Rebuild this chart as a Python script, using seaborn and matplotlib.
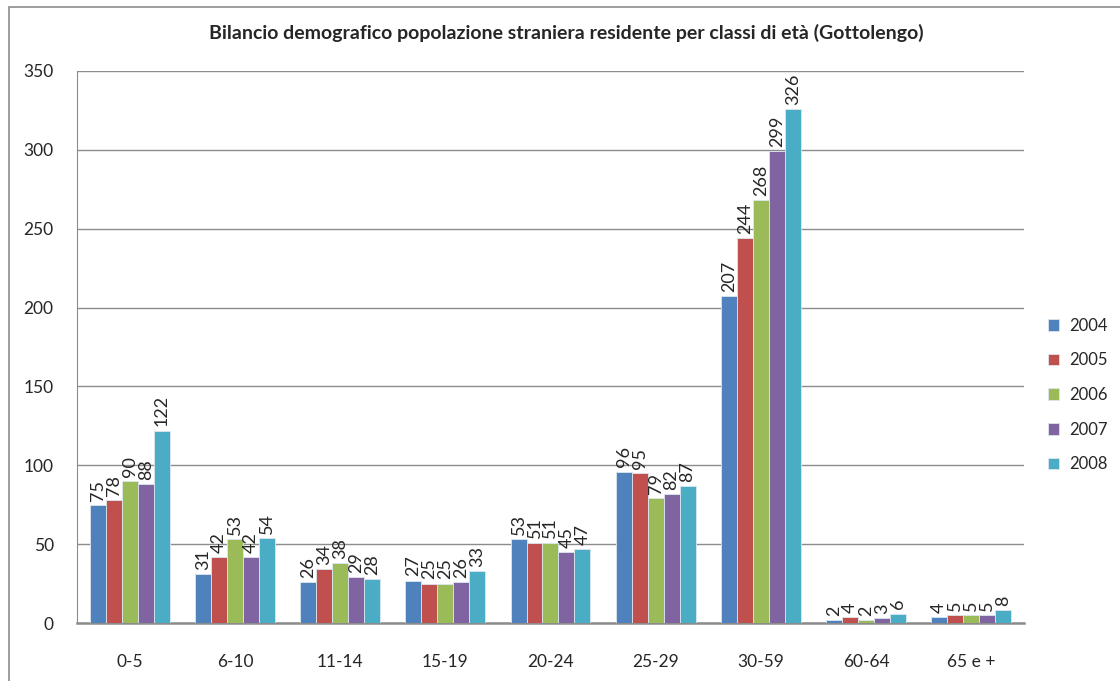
import pandas as pd
import seaborn as sns
import matplotlib.pyplot as plt
from matplotlib.patches import Rectangle

classi = ["0-5", "6-10", "11-14", "15-19", "20-24", "25-29", "30-59", "60-64", "65 e +"]
anni = ["2004", "2005", "2006", "2007", "2008"]
v2004 = [75, 31, 26, 27, 53, 96, 207, 2, 4]
v2005 = [78, 42, 34, 25, 51, 95, 244, 4, 5]
v2006 = [90, 53, 38, 25, 51, 79, 268, 2, 5]
v2007 = [88, 42, 29, 26, 45, 82, 299, 3, 5]
v2008 = [122, 54, 28, 33, 47, 87, 326, 6, 8]
colori = ["#4F81BD", "#C0504D", "#9BBB59", "#8064A2", "#4BACC6"]


def main():
    sns.set_style("white")
    plt.rcParams['font.family'] = ['Lato', 'DejaVu Sans']

    rows = []
    for anno, vals in zip(anni, [v2004, v2005, v2006, v2007, v2008]):
        for c, v in zip(classi, vals):
            rows.append({'classe': c, 'anno': anno, 'valore': v})
    df = pd.DataFrame(rows)

    fig = plt.figure(figsize=(11.2, 6.81), dpi=100)
    ax = fig.add_axes([0.069, 0.085, 0.845, 0.811])

    sns.barplot(data=df, x='classe', y='valore', hue='anno', palette=colori,
                width=0.76, order=classi, hue_order=anni, saturation=1,
                edgecolor="#dde6f0", linewidth=0.6, ax=ax, zorder=3)

    for cont in ax.containers:
        ax.bar_label(cont, rotation=90, padding=3, fontsize=13)

    ax.set_ylim(0, 350)
    ax.set_yticks(range(0, 351, 50))
    ax.set_xlim(-0.5, len(classi) - 0.5)
    ax.yaxis.grid(True, color="#8c8c8c", linewidth=1, zorder=0)
    ax.set_axisbelow(True)
    ax.set_xlabel("")
    ax.set_ylabel("")
    ax.tick_params(axis='y', length=0, pad=17, labelsize=12.5)
    ax.tick_params(axis='x', length=0, pad=22, labelsize=12.5)
    for s in ['top', 'right']:
        ax.spines[s].set_visible(False)
    ax.spines['left'].set_color("#8c8c8c")
    ax.spines['bottom'].set_color("#8c8c8c")
    ax.spines['bottom'].set_linewidth(1.8)

    ax.legend(title=None, frameon=False, loc='center left',
              bbox_to_anchor=(0.922, 0.42), bbox_transform=fig.transFigure,
              fontsize=12, handlelength=0.7, handleheight=0.7,
              labelspacing=1.12, handletextpad=0.6)

    fig.text(0.506, 0.952, "Bilancio demografico popolazione straniera residente per classi di età (Gottolengo)",
             ha='center', va='center', fontsize=14, fontweight='bold')

    fig.patches.append(Rectangle((0.008, -0.1), 1.1, 1.09, transform=fig.transFigure,
                                 fill=False, edgecolor="#8c8c8c", linewidth=1.2))

    fig.savefig('out.png', dpi=100)


if __name__ == '__main__':
    main()
